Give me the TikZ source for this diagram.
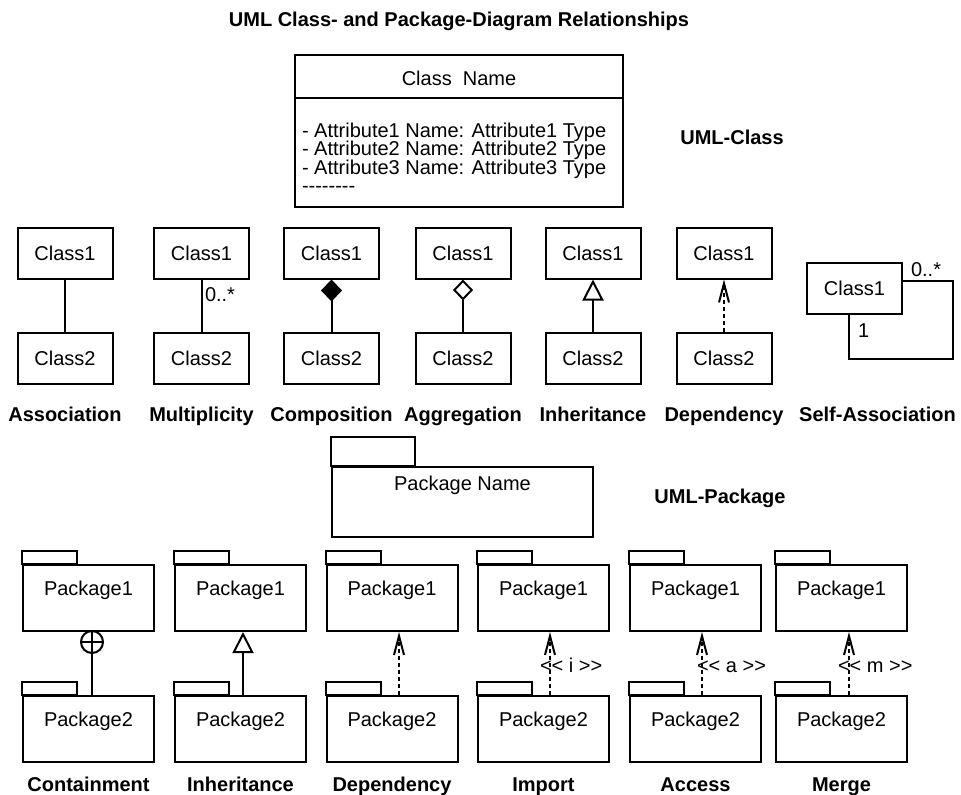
\documentclass[tikz,border=0pt]{standalone}
\usepackage{fontspec}
\newfontfamily\umlfont{Liberation Sans}
\newcommand\attrfont{\umlfont\fontsize{20}{18.5}\selectfont\lineskiplimit=-10pt\relax}
\usetikzlibrary{arrows.meta,positioning}
\tikzset{%
	classbox/.style = {draw, rectangle, minimum width=95pt, minimum height=51pt},
	pkgbox/.style   = {draw, rectangle, inner sep=0pt, minimum width=131pt, text height=30pt, text depth=36pt},
	caption/.style  = {anchor=base, inner sep=0pt, font=\umlfont\fontsize{20}{24}\selectfont\bfseries},
	stereo/.style   = {anchor=base west, inner sep=0pt}, % << x >> labels
	dep/.style      = {dash pattern=on 4pt off 3pt, -{Straight Barb[length=19pt,width=10pt]}},
	gen/.style      = {-{Triangle[open,length=21pt,width=21pt]}},
}

\begin{document}
\begin{tikzpicture}[x=1pt, y=-1pt, line width=2pt, font=\umlfont\fontsize{20}{24}\selectfont]
	\useasboundingbox (0,0) rectangle (961,795);
	\node[caption] (title) at (459,26) {UML Class- and Package-Diagram Relationships};
	
	% class with attributes
	\node[draw, outer sep=0pt, inner sep=0pt, minimum width=328pt, text height=30pt, text depth=13pt] (cname) at (459,76.5) {Class\ \ Name};
	\node[draw, outer sep=0pt, minimum width=328pt, minimum height=109pt, below=0pt of cname] (cattr) {};
	\node[anchor=north west, inner sep=0pt, align=left, font=\attrfont] (attrs) at ([xshift=6pt,yshift=-24pt]cattr.north west) {- Attribute1 Name: Attribute1 Type\\- Attribute2 Name: Attribute2 Type\\- Attribute3 Name: Attribute3 Type\\--------};
	\node[caption] (umlclass) at (732,144) {UML-Class};
	
	% class pairs
	\foreach \x/\n/\cap in {65/as/Association, 201.5/mu/Multiplicity, 331.5/co/Composition, 463/ag/Aggregation, 593/in/Inheritance, 724/de/Dependency} {
		\node[classbox] (\n1) at (\x,253) {Class1};
		\node[classbox] (\n2) at (\x,358.5) {Class2};
		\node[caption] (\n-cap) at (\x,421) {\cap};
	}
	\draw (as1) -- (as2);
	\draw (mu1) -- (mu2);
	\node[stereo] (mult) at (204,301) {0..*};
	\draw[-{Diamond[length=22pt,width=21pt]}] (co2) -- (co1);
	\draw[-{Diamond[open,length=21pt,width=20pt]}] (ag2) -- (ag1);
	\draw[gen] (in2) -- (in1);
	\draw[dep] (de2) -- (de1);
	
	% self association
	\node[classbox] (se1) at (854.5,288) {Class1};
	\coordinate (loop) at (953,359);
	\draw ([yshift=7pt]se1.east) -| (loop) -| ([xshift=-5.5pt]se1.south);
	\node[stereo] (many) at (910,276) {0..*};
	\node[stereo] (one) at (857,337) {1};
	\node[caption] (se-cap) at (877.5,421) {Self-Association};
	
	% package
	\node[pkgbox, minimum width=261pt, text height=23pt, text depth=47pt] (pname) at (462.5,502) {Package Name};
	\draw (pname.north west) rectangle ++(84,-29);
	\node[caption] (umlpkg) at (720,503) {UML-Package};
	
	% package pairs
	\foreach \x/\n/\cap in {88.5/pc/Containment, 240.5/ph/Inheritance, 392/pd/Dependency, 543.5/pi/Import, 695.5/pa/Access, 841.5/pm/Merge} {
		\node[pkgbox] (\n1) at (\x,598) {Package1};
		\node[pkgbox] (\n2) at (\x,729) {Package2};
		\draw (\n1.north west) rectangle ++(55,-13);
		\draw (\n2.north west) rectangle ++(55,-13);
		\node[caption] (\n-cap) at (\x,791) {\cap};
	}
	\node[draw, circle, minimum size=22pt, inner sep=0pt, path picture={
		\draw (path picture bounding box.north) -- (path picture bounding box.south)
		      (path picture bounding box.west) -- (path picture bounding box.east);}] (plus) at ([xshift=3.5pt,yshift=-10pt]pc1.south) {};
	\draw ([xshift=3.5pt]pc2.north) -- (plus);
	\draw[gen] ([xshift=2.5pt]ph2.north) -- ([xshift=2.5pt]ph1.south);
	\draw[dep] ([xshift=7pt]pd2.north) -- ([xshift=7pt]pd1.south);
	\draw[dep] ([xshift=6.5pt]pi2.north) -- ([xshift=6.5pt]pi1.south);
	\node[stereo] (imp) at (539,672) {<< i >>};
	\draw[dep] ([xshift=6.5pt]pa2.north) -- ([xshift=6.5pt]pa1.south);
	\node[stereo] (acc) at (696,672) {<< a >>};
	\draw[dep] ([xshift=7.5pt]pm2.north) -- ([xshift=7.5pt]pm1.south);
	\node[stereo] (mrg) at (837,672) {<< m >>};
\end{tikzpicture}
\end{document}
